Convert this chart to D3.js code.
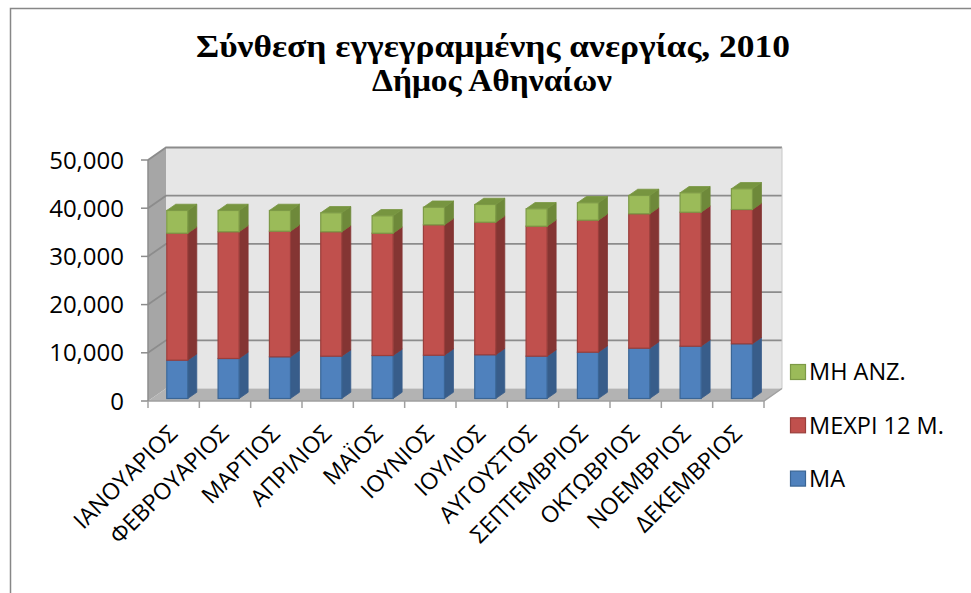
<!DOCTYPE html>
<html>
<head>
<meta charset="utf-8">
<script src="https://cdn.jsdelivr.net/npm/d3@7"></script>
<style>
  body { margin: 0; background: #fff; }
  svg { display: block; }
</style>
</head>
<body>
<div id="chart"></div>
<script>
var months = ["ΙΑΝΟΥΑΡΙΟΣ", "ΦΕΒΡΟΥΑΡΙΟΣ", "ΜΑΡΤΙΟΣ", "ΑΠΡΙΛΙΟΣ", "ΜΑΪΟΣ", "ΙΟΥΝΙΟΣ",
    "ΙΟΥΛΙΟΣ", "ΑΥΓΟΥΣΤΟΣ", "ΣΕΠΤΕΜΒΡΙΟΣ", "ΟΚΤΩΒΡΙΟΣ", "ΝΟΕΜΒΡΙΟΣ", "ΔΕΚΕΜΒΡΙΟΣ"];
var seriesNames = ["ΜΑ", "ΜΕΧΡΙ 12 Μ.", "ΜΗ ΑΝΖ."];
var maValues = [7950, 8300, 8650, 8780, 8920, 8980, 9070, 8780, 9610, 10440, 10850, 11350];
var upTo12Values = [26350, 26290, 26060, 25810, 25370, 27050, 27510, 26970, 27390, 27880, 27800, 27860];
var unspecValues = [4710, 4420, 4300, 3940, 3610, 3650, 3670, 3610, 3610, 3800, 4030, 4300];
var yTicks = [0, 10000, 20000, 30000, 40000, 50000];

var width = 971, height = 593;
var x0 = 148, plotW = 616;
var dx = 18, dy = -12.5;      // full depth offset of the 3D box
var barFront = 0.2, barBack = 0.7;
var sansFont = "'Open Sans', 'Noto Sans', sans-serif";

var colors = {
    "ΜΑ": { front: "#4F81BD", side: "#385D8A", top: "#44709F", stroke: "#3A6595" },
    "ΜΕΧΡΙ 12 Μ.": { front: "#C0504D", side: "#843533", top: "#9E3F3C", stroke: "#9A3E3B" },
    "ΜΗ ΑΝΖ.": { front: "#9BBB59", side: "#6E893A", top: "#779540", stroke: "#7D9A46" }
};

var rows = months.map(function (m, i) {
    return { month: m, "ΜΑ": maValues[i], "ΜΕΧΡΙ 12 Μ.": upTo12Values[i], "ΜΗ ΑΝΖ.": unspecValues[i] };
});
var stacked = d3.stack().keys(seriesNames)(rows);

var x = d3.scaleBand().domain(months).range([x0, x0 + plotW]).paddingInner(0.59).paddingOuter(0.295);
var xTickScale = d3.scaleLinear().domain([0, months.length]).range([x0, x0 + plotW]);
var y = d3.scaleLinear().domain([0, 50000]).range([401, 160]);

// project a point in the 3D box: px on the front plane, value, depth 0..1
function pt(px, v, depth) {
    return [px + depth * dx, y(v) + depth * dy];
}
function poly(points) {
    return points.map(function (p) { return p.join(","); }).join(" ");
}

var svg = d3.select("#chart")
    .append("svg")
    .attr("width", width)
    .attr("height", height);

// chart border (cut at right/bottom as in the picture)
svg.append("path")
    .attr("d", "M10.5," + height + "V8.5H" + width)
    .attr("fill", "none")
    .attr("stroke", "#878787")
    .attr("stroke-width", 1.5);

// walls and floor
var xEnd = x0 + plotW;
svg.append("polygon")
    .attr("points", poly([pt(x0, 0, 0), pt(x0, 50000, 0), pt(x0, 50000, 1), pt(x0, 0, 1)]))
    .attr("fill", "#A6A6A6");
svg.append("polygon")
    .attr("points", poly([pt(x0, 0, 1), pt(x0, 50000, 1), pt(xEnd, 50000, 1), pt(xEnd, 0, 1)]))
    .attr("fill", "#E6E6E6");
svg.append("polygon")
    .attr("points", poly([pt(x0, 0, 0), pt(x0, 0, 1), pt(xEnd, 0, 1), pt(xEnd, 0, 0)]))
    .attr("fill", "#B3B3B3");

// gridlines: along side wall then across the back wall
svg.selectAll("path.grid")
    .data(yTicks.slice(1))
    .enter()
    .append("path")
    .attr("class", "grid")
    .attr("d", function (d) {
        return "M" + pt(x0, d, 0) + "L" + pt(x0, d, 1) + "L" + pt(xEnd, d, 1);
    })
    .attr("fill", "none")
    .attr("stroke", "#8C8C8C")
    .attr("stroke-width", 1.8);

// right edge of back wall
svg.append("path")
    .attr("d", "M" + pt(xEnd, 0, 1) + "L" + pt(xEnd, 50000, 1))
    .attr("stroke", "#C8C8C8")
    .attr("stroke-width", 1);

// floor edges
svg.append("path")
    .attr("d", "M" + pt(x0, 0, 0) + "L" + pt(xEnd, 0, 0) + "L" + pt(xEnd, 0, 1))
    .attr("fill", "none")
    .attr("stroke", "#A0A0A0")
    .attr("stroke-width", 1.5);

// y axis
svg.append("line")
    .attr("x1", x0).attr("x2", x0)
    .attr("y1", y(0)).attr("y2", y(50000))
    .attr("stroke", "#8C8C8C")
    .attr("stroke-width", 1.5);
svg.selectAll("line.ytick")
    .data(yTicks)
    .enter()
    .append("line")
    .attr("x1", x0 - 7).attr("x2", x0)
    .attr("y1", function (d) { return y(d); })
    .attr("y2", function (d) { return y(d); })
    .attr("stroke", "#8C8C8C")
    .attr("stroke-width", 1.5);
svg.selectAll("text.ylab")
    .data(yTicks)
    .enter()
    .append("text")
    .attr("x", 124)
    .attr("y", function (d) { return y(d); })
    .attr("dy", "0.36em")
    .attr("text-anchor", "end")
    .style("font-family", sansFont)
    .style("font-size", "24px")
    .style("fill", "#000")
    .text(function (d) { return d3.format(",")(d); });

// category ticks
svg.selectAll("line.xtick")
    .data(d3.range(months.length + 1))
    .enter()
    .append("line")
    .attr("x1", function (d) { return xTickScale(d); })
    .attr("x2", function (d) { return xTickScale(d); })
    .attr("y1", y(0))
    .attr("y2", y(0) + 7)
    .attr("stroke", "#A0A0A0")
    .attr("stroke-width", 1.5);

// bars
var bw = x.bandwidth();
stacked.forEach(function (layer) {
    var c = colors[layer.key];
    var g = svg.append("g");
    layer.forEach(function (d) {
        var bx = x(d.data.month);
        var lo = d[0], hi = d[1];
        // right side
        g.append("polygon")
            .attr("points", poly([pt(bx + bw, lo, barFront), pt(bx + bw, lo, barBack),
                pt(bx + bw, hi, barBack), pt(bx + bw, hi, barFront)]))
            .attr("fill", c.side)
            .attr("stroke", c.side)
            .attr("stroke-width", 0.8);
        // top
        g.append("polygon")
            .attr("points", poly([pt(bx, hi, barFront), pt(bx + bw, hi, barFront),
                pt(bx + bw, hi, barBack), pt(bx, hi, barBack)]))
            .attr("fill", c.top)
            .attr("stroke", c.top)
            .attr("stroke-width", 0.8);
        // front
        var f0 = pt(bx, hi, barFront), f1 = pt(bx + bw, lo, barFront);
        g.append("rect")
            .attr("x", f0[0])
            .attr("y", f0[1])
            .attr("width", f1[0] - f0[0])
            .attr("height", f1[1] - f0[1])
            .attr("fill", c.front)
            .attr("stroke", c.stroke)
            .attr("stroke-width", 1.2);
    });
});

// x labels
svg.selectAll("text.xlab")
    .data(months)
    .enter()
    .append("text")
    .attr("transform", function (d) {
        return "translate(" + (x(d) + bw / 2 + 5) + "," + 435 + ") rotate(-45)";
    })
    .attr("text-anchor", "end")
    .style("font-family", sansFont)
    .style("font-size", "23px")
    .style("fill", "#000")
    .text(function (d) { return d; });

// legend
var legendOrder = seriesNames.slice().reverse();
var legend = svg.selectAll("g.legend")
    .data(legendOrder)
    .enter()
    .append("g")
    .attr("transform", function (d, i) { return "translate(790," + (364 + i * 53.3) + ")"; });
legend.append("rect")
    .attr("x", 0.5).attr("y", 0.5)
    .attr("width", 15).attr("height", 15)
    .attr("fill", function (d) { return colors[d].front; })
    .attr("stroke", function (d) { return colors[d].stroke; })
    .attr("stroke-width", 1.2);
legend.append("text")
    .attr("x", 19)
    .attr("y", 8)
    .attr("dy", "0.36em")
    .style("font-family", sansFont)
    .style("font-size", "23.5px")
    .style("fill", "#000")
    .text(function (d) { return d; });

// title
var title = svg.append("text")
    .attr("text-anchor", "middle")
    .style("font-family", "'Liberation Serif', serif")
    .style("font-weight", "bold")
    .style("font-size", "32px")
    .style("fill", "#000");
title.append("tspan").attr("x", 493).attr("y", 57)
    .attr("textLength", 594).attr("lengthAdjust", "spacingAndGlyphs")
    .text("Σύνθεση εγγεγραμμένης ανεργίας, 2010");
title.append("tspan").attr("x", 492).attr("y", 91)
    .attr("textLength", 240).attr("lengthAdjust", "spacingAndGlyphs")
    .text("Δήμος Αθηναίων");
</script>
</body>
</html>
